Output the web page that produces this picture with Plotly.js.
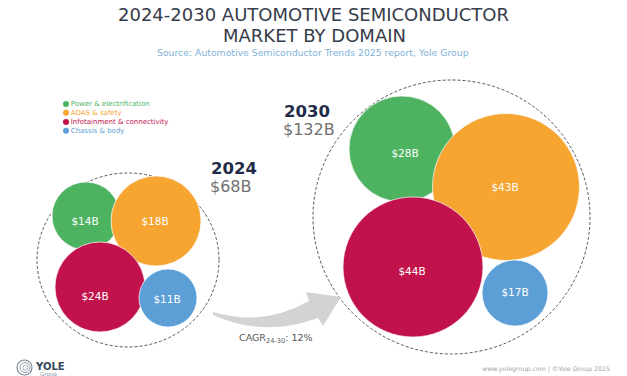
<!DOCTYPE html>
<html><head><meta charset="utf-8">
<script src="https://cdn.plot.ly/plotly-3.0.1.min.js"></script>
<style>html,body{margin:0;padding:0;background:#fff}#chart{width:627px;height:376px}</style>
</head><body><div id="chart"></div>
<script>
// ---- data ----
const domains = ['Power & electrification', 'ADAS & safety', 'Infotainment & connectivity', 'Chassis & body'];
const years = ['2024', '2030'];
const values2024 = [14, 18, 24, 11];
const values2030 = [28, 43, 44, 17];
const totals = [68, 132];
const cagrPeriod = '24-30';
const cagrValue = 12;

// ---- styling / placement (pixel space) ----
const colors = ['#4db360', '#f6a531', '#c2124b', '#5c9fd6'];
const place2024 = {x: [86, 156, 100, 168], y: [216, 221, 287, 298], r: [34, 45, 45, 29],
                   lx: [85, 155, 95, 167], ly: [222, 222, 297, 300]};
const place2030 = {x: [402, 506, 413, 515], y: [149, 187, 267, 293], r: [53, 73.5, 70, 33],
                   lx: [405, 505, 412, 515], ly: [154, 188, 272, 293]};
const FONT = 'DejaVu Sans';

const traces = [];
domains.forEach((d, i) => {
  traces.push({
    type: 'scatter', mode: 'markers', name: d, showlegend: false, hoverinfo: 'skip',
    x: [place2024.x[i], place2030.x[i]],
    y: [place2024.y[i], place2030.y[i]],
    marker: {size: [2 * place2024.r[i], 2 * place2030.r[i]], color: colors[i], opacity: 1,
             line: {color: 'rgba(255,255,255,0.7)', width: 1}}
  });
});
// value labels
traces.push({
  type: 'scatter', mode: 'text', showlegend: false, hoverinfo: 'skip',
  x: place2024.lx.concat(place2030.lx),
  y: place2024.ly.concat(place2030.ly),
  text: values2024.concat(values2030).map(v => '$' + v + 'B'),
  textposition: 'middle center',
  textfont: {family: FONT, size: 10.5, color: '#ffffff'}
});
// legend (dots + coloured labels)
const legX = 66, legY = [104, 112.8, 122, 130.8];
traces.push({
  type: 'scatter', mode: 'markers+text', showlegend: false, hoverinfo: 'skip',
  x: domains.map(() => legX), y: legY,
  text: domains, textposition: 'middle right',
  marker: {size: 6, color: colors},
  textfont: {family: FONT, size: 7, color: colors}
});

// arrow shape (decoration)
const arrowPath = 'M213,312 Q263,327 309,301 L306,292 L341,297 L323,326 L318,318 Q264,338 213,315 Z';

const layout = {
  width: 627, height: 376,
  margin: {l: 0, r: 0, t: 0, b: 0},
  paper_bgcolor: '#ffffff', plot_bgcolor: '#ffffff',
  xaxis: {range: [0, 627], visible: false, fixedrange: true},
  yaxis: {range: [376, 0], visible: false, fixedrange: true},
  title: {text: '2024-2030 AUTOMOTIVE SEMICONDUCTOR', x: 0.5, xanchor: 'center',
          y: 1 - 15 / 376, yanchor: 'middle', yref: 'container',
          font: {family: FONT, size: 18, color: '#363c4a'}},
  shapes: [
    {type: 'circle', xref: 'x', yref: 'y', x0: 37, x1: 219, y0: 173, y1: 347,
     line: {color: '#555', width: 1, dash: '3px,2px'}, layer: 'below'},
    {type: 'circle', xref: 'x', yref: 'y', x0: 313, x1: 590, y0: 80, y1: 354,
     line: {color: '#555', width: 1, dash: '3px,2px'}, layer: 'below'},
    {type: 'path', xref: 'x', yref: 'y', path: arrowPath, fillcolor: '#d3d3d3', line: {width: 0}},
    {type: 'circle', xref: 'x', yref: 'y', x0: 17, x1: 32, y0: 360, y1: 375, line: {color: '#7a8a98', width: 1.2}},
    {type: 'circle', xref: 'x', yref: 'y', x0: 20, x1: 30, y0: 362.5, y1: 372.5, line: {color: '#8fa0ad', width: 1}},
    {type: 'circle', xref: 'x', yref: 'y', x0: 23, x1: 28, y0: 365, y1: 370, line: {color: '#a5b3bd', width: 1}}
  ],
  annotations: [
    {text: 'MARKET BY DOMAIN', x: 314, y: 35, xref: 'x', yref: 'y', showarrow: false,
     font: {family: FONT, size: 18, color: '#363c4a'}},
    {text: 'Source: Automotive Semiconductor Trends 2025 report, Yole Group', x: 313, y: 52,
     xref: 'x', yref: 'y', showarrow: false, font: {family: FONT, size: 9.3, color: '#7fb2d8'}},
    {text: '<b>' + years[0] + '</b>', x: 209, y: 168.5, xanchor: 'left', xref: 'x', yref: 'y', showarrow: false,
     font: {family: FONT, size: 16.5, color: '#1f2c47'}},
    {text: '$' + totals[0] + 'B', x: 208, y: 186.5, xanchor: 'left', xref: 'x', yref: 'y', showarrow: false,
     font: {family: FONT, size: 16, color: '#707070'}},
    {text: '<b>' + years[1] + '</b>', x: 282, y: 111, xanchor: 'left', xref: 'x', yref: 'y', showarrow: false,
     font: {family: FONT, size: 16.5, color: '#1f2c47'}},
    {text: '$' + totals[1] + 'B', x: 281, y: 129, xanchor: 'left', xref: 'x', yref: 'y', showarrow: false,
     font: {family: FONT, size: 16, color: '#707070'}},
    {text: 'CAGR<sub>' + cagrPeriod + '</sub>: ' + cagrValue + '%', x: 276, y: 338, xref: 'x', yref: 'y',
     showarrow: false, font: {family: FONT, size: 9.5, color: '#555'}},
    {text: '<b>YOLE</b>', x: 33, y: 366, xanchor: 'left', xref: 'x', yref: 'y', showarrow: false,
     font: {family: FONT, size: 10, color: '#34475b'}},
    {text: 'Group', x: 38, y: 374, xanchor: 'left', xref: 'x', yref: 'y', showarrow: false,
     font: {family: FONT, size: 5.5, color: '#8a9aa8'}},
    {text: 'www.yolegroup.com | ©Yole Group 2025', x: 612, y: 369, xanchor: 'right', xref: 'x', yref: 'y',
     showarrow: false, font: {family: FONT, size: 6.3, color: '#a3a3a3'}}
  ],
  showlegend: false
};

Plotly.newPlot('chart', traces, layout, {staticPlot: true, displayModeBar: false});
</script>
</body></html>
